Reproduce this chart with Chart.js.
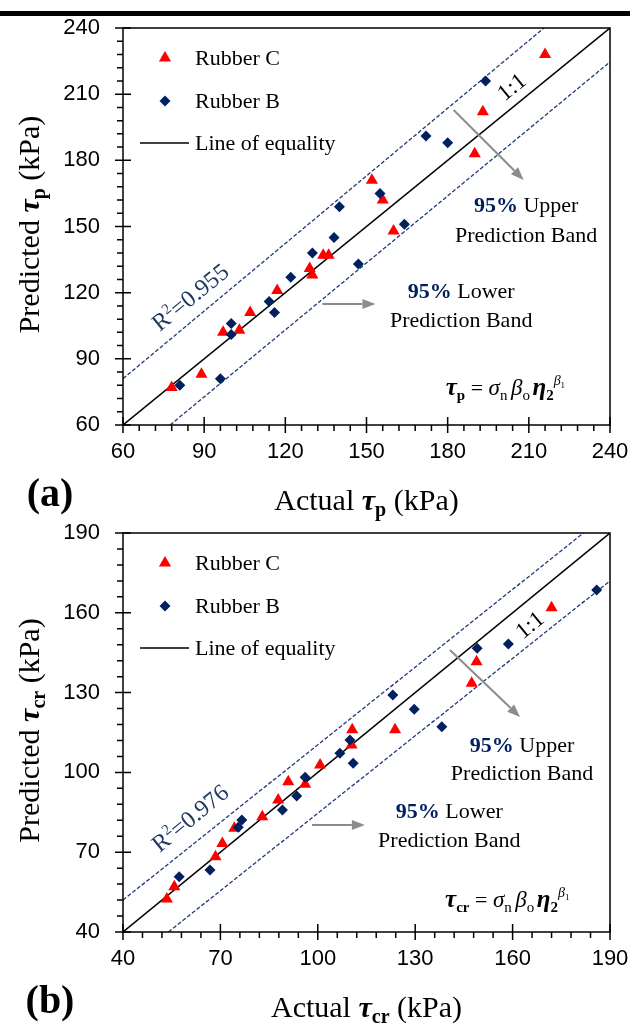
<!DOCTYPE html>
<html lang="en">
<head>
<meta charset="UTF-8">
<title>Predicted vs actual shear strength</title>
<style>
    body { margin: 0; background: #fff; overflow: hidden; }
    .panel { position: absolute; left: 0; width: 630px; }
    #panelA { top: 0; height: 530px; }
    #panelB { top: 515px; height: 512px; }
    .topbar { position: absolute; left: 0; top: 11px; width: 630px; height: 5px; background: #000; }
</style>
</head>
<body>
<div class="panel" id="panelA"><canvas id="chartA"></canvas></div>
<div class="panel" id="panelB"><canvas id="chartB"></canvas></div>
<div class="topbar"></div>

<script src="https://cdn.jsdelivr.net/npm/chart.js"></script>
<script>
// (a) peak shear strength tau_p (kPa)
const pC_actual = [78, 89, 97, 103, 107, 117, 129, 130, 134, 136, 152, 156, 160, 190, 193, 216];
const pC_pred   = [77, 83, 102, 103, 111, 121, 131, 128, 137, 137, 171, 162, 148, 183, 202, 228];
const pB_actual = [81, 96, 100, 100, 114, 116, 122, 130, 138, 140, 147, 155, 164, 172, 180, 194];
const pB_pred   = [78, 81, 106, 101, 116, 111, 127, 138, 145, 159, 133, 165, 151, 191, 188, 216];
const pTicks    = [60, 90, 120, 150, 180, 210, 240];
const pUpper_x  = [60, 215.6];
const pUpper_y  = [81, 240];
const pLower_x  = [77.4, 240];
const pLower_y  = [60, 224.6];

// (b) shear strength tau_cr (kPa)
const crC_actual = [53.5, 55.8, 68.5, 70.6, 74.3, 82.9, 87.8, 90.9, 96.1, 100.7, 110.4, 110.6, 123.8, 147.4, 148.9, 172];
const crC_pred   = [52.4, 57, 68.3, 73.3, 79, 83.3, 89.6, 96.5, 95.5, 102.8, 110.3, 116, 116, 133.5, 141.6, 161.9];
const crB_actual = [57.3, 66.8, 75.5, 76.6, 89.1, 93.5, 96.1, 106.8, 109.9, 110.9, 123.1, 129.7, 138.2, 149.1, 158.7, 185.9];
const crB_pred   = [60.8, 63.3, 79.4, 82.1, 85.9, 91.1, 98.2, 107.2, 112.2, 103.4, 129.1, 123.7, 117.2, 146.7, 148.3, 168.6];
const crTicks    = [40, 70, 100, 130, 160, 190];
const crUpper_x  = [40, 181.8];
const crUpper_y  = [52, 190];
const crLower_x  = [54, 190];
const crLower_y  = [40, 172];

const SERIF = "'Liberation Serif', 'Times New Roman', serif";
const SANS = "'Liberation Sans Narrow', 'Liberation Sans', Arial, sans-serif";
const RED = '#ff0000';
const NAVY = '#002060';
const BAND = '#1f3a78';
const GREY = '#8c8c8c';

const S = (size, style) => `${style || ''} ${size}px ${SERIF}`;
const zip = (xs, ys) => xs.map((x, i) => ({ x: x, y: ys[i] }));

function richWidth(ctx, parts) {
    let w = 0;
    parts.forEach(p => { ctx.font = p.f; w += ctx.measureText(p.t).width; });
    return w;
}

function drawRich(ctx, parts, x, y, align) {
    const w = richWidth(ctx, parts);
    let cx = align === 'center' ? x - w / 2 : x;
    ctx.textAlign = 'left';
    ctx.textBaseline = 'alphabetic';
    parts.forEach(p => {
        ctx.font = p.f;
        ctx.fillStyle = p.c || '#000';
        ctx.fillText(p.t, cx, y + (p.dy || 0));
        cx += ctx.measureText(p.t).width;
    });
}

function arrow(ctx, x1, y1, x2, y2) {
    const ang = Math.atan2(y2 - y1, x2 - x1);
    const hl = 13, hw = 5;
    ctx.strokeStyle = GREY;
    ctx.fillStyle = GREY;
    ctx.lineWidth = 2;
    ctx.beginPath();
    ctx.moveTo(x1, y1);
    ctx.lineTo(x2 - Math.cos(ang) * hl, y2 - Math.sin(ang) * hl);
    ctx.stroke();
    ctx.beginPath();
    ctx.moveTo(x2, y2);
    ctx.lineTo(x2 - Math.cos(ang) * hl - Math.sin(ang) * hw, y2 - Math.sin(ang) * hl + Math.cos(ang) * hw);
    ctx.lineTo(x2 - Math.cos(ang) * hl + Math.sin(ang) * hw, y2 - Math.sin(ang) * hl - Math.cos(ang) * hw);
    ctx.closePath();
    ctx.fill();
}

// frame, ticks, legend, annotations and axis titles
function decor(d) {
    return {
        id: 'decor',
        afterDraw(chart) {
            const ctx = chart.ctx;
            const a = chart.chartArea;
            const sx = chart.scales.x, sy = chart.scales.y;
            const X = v => sx.getPixelForValue(v);
            const Y = v => sy.getPixelForValue(v);
            ctx.save();

            // frame
            ctx.strokeStyle = '#000';
            ctx.lineWidth = 1.5;
            ctx.strokeRect(a.left, a.top, a.right - a.left, a.bottom - a.top);

            // major + minor ticks (5 divisions per major step)
            const step = d.ticks[1] - d.ticks[0];
            const n = (d.ticks.length - 1) * 5;
            ctx.beginPath();
            for (let i = 0; i <= n; i++) {
                const v = d.ticks[0] + i * step / 5;
                const major = i % 5 === 0;
                const px = X(v), py = Y(v);
                if (major) {
                    ctx.moveTo(px, a.bottom - 8); ctx.lineTo(px, a.bottom + 8);
                    ctx.moveTo(a.left - 8, py); ctx.lineTo(a.left + 8, py);
                } else {
                    ctx.moveTo(px, a.bottom); ctx.lineTo(px, a.bottom + 6);
                    ctx.moveTo(a.left - 6, py); ctx.lineTo(a.left, py);
                }
            }
            ctx.stroke();

            // legend
            const lx = a.left + 42;
            let ly = a.top + 30;
            ctx.fillStyle = RED;
            ctx.beginPath();
            ctx.moveTo(lx, ly - 7); ctx.lineTo(lx + 6.1, ly + 3.5); ctx.lineTo(lx - 6.1, ly + 3.5);
            ctx.closePath(); ctx.fill();
            drawRich(ctx, [{ t: 'Rubber C', f: S(22) }], a.left + 72, ly + 7, 'left');
            ly = a.top + 73;
            ctx.fillStyle = NAVY;
            ctx.beginPath();
            ctx.moveTo(lx, ly - 5.5); ctx.lineTo(lx + 5.5, ly); ctx.lineTo(lx, ly + 5.5); ctx.lineTo(lx - 5.5, ly);
            ctx.closePath(); ctx.fill();
            drawRich(ctx, [{ t: 'Rubber B', f: S(22) }], a.left + 72, ly + 7, 'left');
            ly = a.top + 115;
            ctx.strokeStyle = '#000';
            ctx.lineWidth = 1.5;
            ctx.beginPath(); ctx.moveTo(a.left + 17, ly); ctx.lineTo(a.left + 66, ly); ctx.stroke();
            drawRich(ctx, [{ t: 'Line of equality', f: S(22) }], a.left + 72, ly + 7, 'left');

            // rotated labels along the 1:1 direction
            const ang = Math.atan2(Y(d.ticks[d.ticks.length - 1]) - Y(d.ticks[0]), X(d.ticks[d.ticks.length - 1]) - X(d.ticks[0]));
            ctx.save();
            ctx.translate(X(d.r2.x), Y(d.r2.y));
            ctx.rotate(ang);
            drawRich(ctx, [
                { t: 'R', f: S(24), c: '#1f3864' },
                { t: '2', f: S(15), c: '#1f3864', dy: -9 },
                { t: '=' + d.r2.text, f: S(24), c: '#1f3864' }
            ], 0, 8, 'center');
            ctx.restore();
            ctx.save();
            ctx.translate(X(d.one.x), Y(d.one.y));
            ctx.rotate(ang);
            drawRich(ctx, [{ t: '1:1', f: S(23) }], 0, 7, 'center');
            ctx.restore();

            // arrows
            arrow(ctx, X(d.upArrow[0]), Y(d.upArrow[1]), X(d.upArrow[2]), Y(d.upArrow[3]));
            arrow(ctx, X(d.loArrow[0]), Y(d.loArrow[1]), X(d.loArrow[2]), Y(d.loArrow[3]));

            // band captions
            drawRich(ctx, [{ t: '95%', f: S(22, 'bold'), c: NAVY }, { t: ' Upper', f: S(22) }], X(d.upText.x), Y(d.upText.y1), 'center');
            drawRich(ctx, [{ t: 'Prediction Band', f: S(22) }], X(d.upText.x), Y(d.upText.y2), 'center');
            drawRich(ctx, [{ t: '95%', f: S(22, 'bold'), c: NAVY }, { t: ' Lower', f: S(22) }], X(d.loText.x), Y(d.loText.y1), 'center');
            drawRich(ctx, [{ t: 'Prediction Band', f: S(22) }], X(d.loText.x), Y(d.loText.y2), 'center');

            // model equation
            drawRich(ctx, [
                { t: 'τ', f: S(25, 'bold italic') },
                { t: d.sub, f: S(15, 'bold'), dy: 5 },
                { t: ' = ', f: S(22) },
                { t: 'σ', f: S(23, 'italic') },
                { t: 'n', f: S(15), dy: 5 },
                { t: ' ', f: S(14) },
                { t: 'β', f: S(23, 'italic') },
                { t: 'o', f: S(15), dy: 5 },
                { t: ' ', f: S(10) },
                { t: 'η', f: S(25, 'bold italic') },
                { t: '2', f: S(15, 'bold'), dy: 5 },
                { t: 'β', f: S(14, 'italic'), dy: -10 },
                { t: '1', f: S(9), dy: -7 }
            ], X(d.eq.x), Y(d.eq.y), 'left');

            // axis titles and panel letter
            const cy = (a.top + a.bottom) / 2 - 2;
            drawRich(ctx, [
                { t: 'Actual ', f: S(30) },
                { t: 'τ', f: S(30, 'bold italic') },
                { t: d.sub, f: S(20, 'bold'), dy: 6 },
                { t: ' (kPa)', f: S(30) }
            ], (a.left + a.right) / 2, a.bottom + 85, 'center');
            ctx.save();
            ctx.translate(39, cy);
            ctx.rotate(-Math.PI / 2);
            drawRich(ctx, [
                { t: 'Predicted ', f: S(30) },
                { t: 'τ', f: S(30, 'bold italic') },
                { t: d.sub, f: S(20, 'bold'), dy: 6 },
                { t: ' (kPa)', f: S(30) }
            ], 0, 0, 'center');
            ctx.restore();
            drawRich(ctx, [{ t: d.letter, f: S(40, 'bold') }], 50, a.bottom + 81, 'center');

            ctx.restore();
        }
    };
}

function makeChart(id, d) {
    const tickFont = { family: SANS, size: 22 };
    return new Chart(document.getElementById(id), {
        type: 'scatter',
        data: {
            datasets: [
                { label: 'Rubber B', data: zip(d.bx, d.by), pointStyle: 'rectRot', pointRadius: 5.5,
                  backgroundColor: NAVY, borderColor: NAVY, borderWidth: 0 },
                { label: 'Rubber C', data: zip(d.cx, d.cy), pointStyle: 'triangle', pointRadius: 7,
                  backgroundColor: RED, borderColor: RED, borderWidth: 0 },
                { label: 'Line of equality', data: zip([d.ticks[0], d.ticks[d.ticks.length - 1]], [d.ticks[0], d.ticks[d.ticks.length - 1]]),
                  showLine: true, pointRadius: 0, borderColor: '#000', borderWidth: 1.5 },
                { label: '95% Upper', data: zip(d.ux, d.uy), showLine: true, pointRadius: 0,
                  borderColor: BAND, borderWidth: 1.3, borderDash: [4, 2] },
                { label: '95% Lower', data: zip(d.lx, d.ly), showLine: true, pointRadius: 0,
                  borderColor: BAND, borderWidth: 1.3, borderDash: [4, 2] }
            ]
        },
        options: {
            responsive: true,
            maintainAspectRatio: false,
            animation: false,
            events: [],
            layout: { padding: { top: d.padTop, right: 20, left: 0, bottom: 0 } },
            plugins: { legend: { display: false }, tooltip: { enabled: false } },
            scales: {
                x: {
                    type: 'linear',
                    min: d.ticks[0], max: d.ticks[d.ticks.length - 1],
                    grid: { display: false, drawTicks: false },
                    border: { display: false },
                    afterBuildTicks: s => { s.ticks = d.ticks.map(v => ({ value: v })); },
                    afterFit: s => { s.height = d.xAxisH; s.paddingLeft = 0; s.paddingRight = 0; },
                    ticks: { font: tickFont, color: '#000', padding: 14, maxRotation: 0, autoSkip: false }
                },
                y: {
                    type: 'linear',
                    min: d.ticks[0], max: d.ticks[d.ticks.length - 1],
                    grid: { display: false, drawTicks: false },
                    border: { display: false },
                    afterBuildTicks: s => { s.ticks = d.ticks.map(v => ({ value: v })); },
                    afterFit: s => { s.width = 123; s.paddingTop = 0; s.paddingBottom = 0; },
                    ticks: { font: tickFont, color: '#000', padding: 23, autoSkip: false }
                }
            }
        },
        plugins: [decor(d)]
    });
}

makeChart('chartA', {
    cx: pC_actual, cy: pC_pred, bx: pB_actual, by: pB_pred,
    ux: pUpper_x, uy: pUpper_y, lx: pLower_x, ly: pLower_y,
    ticks: pTicks, padTop: 28, xAxisH: 105, sub: 'p', letter: '(a)',
    r2: { text: '0.955', x: 84.8, y: 118 },
    one: { x: 203.7, y: 213.2 },
    upArrow: [182.2, 202.8, 208.1, 171.1],
    loArrow: [133.7, 114.9, 153.3, 114.9],
    upText: { x: 209, y1: 156.6, y2: 143 },
    loText: { x: 185, y1: 117.6, y2: 104.4 },
    eq: { x: 179.3, y: 73.6 }
});

makeChart('chartB', {
    cx: crC_actual, cy: crC_pred, bx: crB_actual, by: crB_pred,
    ux: crUpper_x, uy: crUpper_y, lx: crLower_x, ly: crLower_y,
    ticks: crTicks, padTop: 18, xAxisH: 95, sub: 'cr', letter: '(b)',
    r2: { text: '0.976', x: 60.6, y: 82.9 },
    one: { x: 165.3, y: 155.4 },
    upArrow: [140.7, 146, 162.3, 120.8],
    loArrow: [98.2, 80.2, 114.5, 80.2],
    upText: { x: 162.9, y1: 107.7, y2: 97.1 },
    loText: { x: 140.5, y1: 82.9, y2: 72 },
    eq: { x: 139.2, y: 49.4 }
});
</script>
</body>
</html>
